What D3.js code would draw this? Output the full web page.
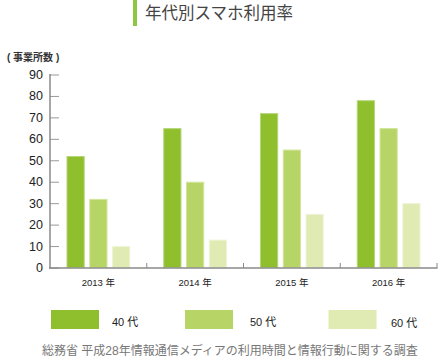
<!DOCTYPE html>
<html><head><meta charset="utf-8">
<script src="https://cdn.jsdelivr.net/npm/d3@7"></script>
<style>body{margin:0;background:#fff}svg{display:block}text{font-family:"Liberation Sans","Noto Sans CJK JP",sans-serif}</style>
</head><body>
<script>
const categories = ["2013年","2014年","2015年","2016年"];
const seriesNames = ["40 代","50 代","60 代"];
const s40 = [52, 65, 72, 78];
const s50 = [32, 40, 55, 65];
const s60 = [10, 13, 25, 30];
const yTicks = [0,10,20,30,40,50,60,70,80,90];
const colors = ["#8fbf2c","#b7d566","#e0ebb4"];
const edges = ["#b5d67a","#d2e59c","#eef4d6"];

const W=444,H=358;
const svg=d3.select("body").append("svg").attr("width",W).attr("height",H);
const cjk='"Noto Sans CJK JP",sans-serif';

svg.append("rect").attr("x",133).attr("y",0).attr("width",4).attr("height",26).attr("fill","#8dc63f");
svg.append("text").attr("x",145).attr("y",19).attr("font-size",16.5).attr("font-family",cjk).attr("fill","#444").text("年代別スマホ利用率");
svg.append("text").attr("x",7).attr("y",61).attr("font-size",10).attr("font-weight","bold").attr("fill","#333").text("( 事業所数 )");

const x0=d3.scaleBand().domain(categories).range([50,437]).paddingInner(0).paddingOuter(0);
const x1=d3.scaleBand().domain(seriesNames).range([16.5,x0.bandwidth()-16.5]).paddingInner(0.2).paddingOuter(0);
const y=d3.scaleLinear().domain([0,90]).range([267.5,74.5]);

const data=categories.map((c,i)=>({c,vals:[s40[i],s50[i],s60[i]]}));

const ya=svg.append("g").attr("transform","translate(50,0)")
 .call(d3.axisRight(y).tickValues(yTicks).tickSize(9).tickFormat(""));
ya.select(".domain").remove();
ya.selectAll("line").attr("stroke","#999").attr("stroke-width",1);
svg.selectAll(".ylab").data(yTicks).join("text").attr("class","ylab")
 .attr("x",43).attr("y",d=>y(d)+4.5).attr("text-anchor","end").attr("font-size",12.5).attr("fill","#222").text(d=>d);

const g=svg.selectAll(".grp").data(data).join("g").attr("transform",d=>`translate(${x0(d.c)},0)`);
g.selectAll("rect").data(d=>d.vals.map((v,j)=>({v,j}))).join("rect")
 .attr("x",d=>x1(seriesNames[d.j])+0.5).attr("width",x1.bandwidth()-1)
 .attr("y",d=>y(d.v)+0.5).attr("height",d=>y(0)-y(d.v)-0.5)
 .attr("fill",d=>colors[d.j]).attr("stroke",d=>edges[d.j]).attr("stroke-width",1);

svg.append("line").attr("x1",50).attr("x2",50).attr("y1",74).attr("y2",268.5).attr("stroke","#8a8a8a").attr("stroke-width",1.5);
svg.append("line").attr("x1",49).attr("x2",437.5).attr("y1",268).attr("y2",268).attr("stroke","#8a8a8a").attr("stroke-width",1.5);
const bounds=[...categories.slice(1).map(c=>x0(c)),437];
svg.selectAll(".xt").data(bounds).join("line").attr("class","xt")
 .attr("x1",d=>d).attr("x2",d=>d).attr("y1",263).attr("y2",268).attr("stroke","#8a8a8a").attr("stroke-width",1);
svg.selectAll(".xlab").data(categories).join("text").attr("class","xlab")
 .attr("x",d=>x0(d)+x0.bandwidth()/2).attr("y",286).attr("text-anchor","middle").attr("font-size",9.5).attr("fill","#222")
 .text(d=>d.replace("年"," 年"));

const legX=[51,185,328.5], legLX=[112,250,391];
seriesNames.forEach((n,j)=>{
 svg.append("rect").attr("x",legX[j]).attr("y",310).attr("width",48).attr("height",19).attr("fill",colors[j]);
 svg.append("text").attr("x",legLX[j]).attr("y",326+(j==2?1:0)).attr("font-size",11).attr("fill","#222").text(n);
});

svg.append("text").attr("x",42).attr("y",355).attr("font-size",12).attr("font-family",cjk).attr("fill","#777")
 .text("総務省 平成28年情報通信メディアの利用時間と情報行動に関する調査");
</script>
</body></html>
